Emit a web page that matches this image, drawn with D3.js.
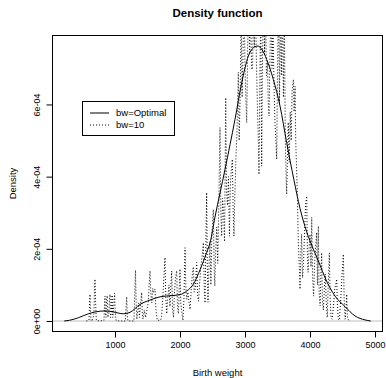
<!DOCTYPE html>
<html>
<head>
<meta charset="utf-8">
<script src="https://cdn.jsdelivr.net/npm/d3@7"></script>
<style>
  html, body { margin: 0; padding: 0; background: #fff; }
  svg text { font-family: "Liberation Sans", Arial, Helvetica, sans-serif; }
</style>
</head>
<body>
<svg id="chart" width="386" height="378"></svg>
<script>
// ---- Data (density values in units of 1e-4) ----
const optX = [219, 300, 436, 590, 692, 846, 974, 1128, 1231, 1385, 1538, 1692, 1846, 2000, 2103, 2205, 2308, 2410, 2462, 2538, 2692, 2846, 2949, 3051, 3154, 3200, 3256, 3333, 3436, 3538, 3641, 3750, 3846, 3949, 4051, 4154, 4231, 4385, 4538, 4692, 4846, 4934];
const optY = [0, 0.02, 0.09, 0.2, 0.25, 0.28, 0.25, 0.2, 0.24, 0.46, 0.58, 0.67, 0.7, 0.73, 0.83, 1.02, 1.42, 1.9, 2.17, 2.88, 4.2, 5.59, 6.6, 7.34, 7.6, 7.62, 7.53, 7.25, 6.69, 5.96, 4.94, 3.93, 3.12, 2.47, 1.99, 1.55, 1.2, 0.69, 0.4, 0.14, 0.03, 0];

const bw10X = [560,600,608,615,622,630,650,675,685,692,700,712,760,830,840,846,853,862,870,880,890,905,915,923,932,945,955,965,980,993,1003,1015,1060,1160,1170,1180,1190,1200,1290,1305,1315,1325,1335,1350,1365,1375,1395,1410,1420,1430,1450,1470,1490,1510,1525,1538,1550,1565,1580,1595,1615,1630,1650,1700,1715,1740,1760,1769,1780,1795,1810,1830,1845,1860,1872,1885,1900,1915,1930,1949,1960,1975,1990,2000,2012,2030,2045,2060,2077,2090,2105,2120,2140,2154,2170,2190,2205,2218,2235,2256,2270,2285,2300,2320,2340,2359,2372,2385,2397,2410,2420,2430,2445,2460,2475,2490,2505,2513,2525,2535,2550,2565,2580,2595,2615,2628,2640,2655,2670,2685,2703,2715,2730,2745,2760,2775,2790,2805,2818,2830,2845,2860,2875,2897,2910,2925,2940,2955,2970,2985,3000,3012,3026,3040,3055,3070,3085,3100,3115,3130,3145,3160,3175,3190,3205,3215,3230,3242,3256,3270,3285,3300,3315,3330,3345,3358,3370,3385,3400,3415,3430,3445,3460,3475,3487,3500,3515,3530,3545,3560,3575,3590,3605,3620,3632,3641,3655,3665,3680,3695,3710,3725,3744,3755,3770,3780,3790,3805,3820,3835,3846,3858,3870,3885,3900,3915,3930,3949,3960,3970,3985,4000,4015,4026,4040,4055,4070,4085,4103,4115,4128,4140,4155,4165,4179,4190,4205,4220,4235,4250,4265,4280,4297,4310,4325,4340,4360,4380,4395,4410,4420,4435,4450,4470,4490,4513,4525,4540,4555,4564,4575,4600];
const bw10Y = [0,0.02,0.5,0.74,0.3,0.02,0,0.2,0.9,1.16,0.6,0.02,0,0.02,0.5,0.69,0.2,0.1,0.6,0.7,0.1,0.2,0.6,0.74,0.1,0.3,0.72,0.1,0.4,0.77,0.3,0.02,0,0,0.4,0.67,0.1,0,0,0.8,1.41,0.5,0.05,0.3,0.5,0.1,0.5,0.79,0.2,0.05,0.3,0.1,0.3,0.5,1.0,1.39,0.8,0.5,0.9,0.8,0.88,0.3,0.02,0.02,0.1,0.8,1.5,1.76,0.7,0.2,0.6,1.0,0.4,1.0,1.39,0.3,0.1,0.8,1.2,1.39,0.4,0.2,1.0,1.44,0.5,0.2,0.02,0.6,2.03,0.9,0.6,0.8,0.5,0.32,0.8,1.3,1.5,0.8,0.9,1.62,0.7,0.55,1.0,1.5,1.8,2.17,1.0,0.5,2.2,3.56,1.5,0.52,1.5,2.2,1.0,2.4,2.9,3.09,1.5,0.97,2.0,2.6,1.6,3.0,5.36,3.0,2.35,3.4,3.0,2.2,6.19,3.6,3.2,4.0,2.35,3.8,4.2,4.48,3.0,2.35,3.6,4.5,5.2,6.89,5.0,6.2,8.5,6.2,7.5,9,7.0,6.2,5.5,7.5,9,7.4,8.8,7.0,6.97,8.6,7.6,9,7.2,6.0,5.0,4.06,7.0,8.6,4.29,7.5,9,7.4,8.6,6.8,7.2,6.0,5.68,7.5,9,7.0,8.2,6.6,5.5,5.0,4.48,7.0,9,6.0,8.8,6.8,9,6.2,8.6,5.0,4.0,3.51,4.8,5.5,4.4,5.8,5.0,6.4,6.69,5.8,6.5,5.0,4.4,3.5,2.2,1.5,0.88,1.8,2.4,1.2,1.6,2.4,3.2,3.46,1.8,1.35,2.0,2.4,1.5,2.87,1.2,0.69,1.6,2.0,2.45,1.0,2.63,0.8,0.42,1.2,1.89,0.6,0.3,0.9,1.3,0.5,0.1,1.0,1.89,0.6,0.08,0.05,0.4,0.9,1.0,1.16,0.5,0.05,0.02,0.5,1.2,1.85,0.6,0.05,0.4,0.74,0.1,0];

const xTicks = [1000, 2000, 3000, 4000, 5000];
const yTicks = [0, 2, 4, 6];
const yTickLabels = ["0e+00", "2e-04", "4e-04", "6e-04"];
const legendLabels = ["bw=Optimal", "bw=10"];
const titleText = "Density function";
const xLabel = "Birth weight";
const yLabel = "Density";

// ---- Layout ----
const box = { left: 52, right: 383, top: 35, bottom: 332 };
const svg = d3.select("#chart");

const xMin = d3.min(optX), xMax = d3.max(optX);
const xPad = (xMax - xMin) * 0.04;
const yMaxV = d3.max(optY);
const yPad = yMaxV * 0.04;

const x = d3.scaleLinear().domain([xMin - xPad, xMax + xPad]).range([box.left, box.right]);
const y = d3.scaleLinear().domain([0 - yPad, yMaxV + yPad]).range([box.bottom, box.top]);

svg.append("defs").append("clipPath").attr("id", "plotclip")
  .append("rect").attr("x", box.left).attr("y", box.top)
  .attr("width", box.right - box.left).attr("height", box.bottom - box.top);

const plot = svg.append("g").attr("clip-path", "url(#plotclip)");

// gray zero line
plot.append("line")
  .attr("x1", box.left).attr("x2", box.right)
  .attr("y1", y(0)).attr("y2", y(0))
  .attr("stroke", "#BEBEBE").attr("stroke-width", 1);

const optData = optX.map((v, i) => [v, optY[i]]);
const bwData = bw10X.map((v, i) => [v, bw10Y[i]]);

plot.append("path")
  .attr("d", d3.line().x(d => x(d[0])).y(d => y(d[1])).curve(d3.curveMonotoneX)(optData))
  .attr("fill", "none").attr("stroke", "#000").attr("stroke-width", 1);

plot.append("path")
  .attr("d", d3.line().x(d => x(d[0])).y(d => y(d[1]))(bwData))
  .attr("fill", "none").attr("stroke", "#000").attr("stroke-width", 1)
  .attr("stroke-dasharray", "1,2");

// box
svg.append("rect")
  .attr("x", box.left + 0.5).attr("y", box.top + 0.5)
  .attr("width", box.right - box.left - 1).attr("height", box.bottom - box.top - 1)
  .attr("fill", "none").attr("stroke", "#000").attr("stroke-width", 1);

// x axis
const xAxis = d3.axisBottom(x).tickValues(xTicks).tickSize(6).tickPadding(4).tickFormat(d3.format("d"));
const gx = svg.append("g").attr("transform", `translate(0,${box.bottom - 0.5})`).call(xAxis);
gx.select(".domain").attr("d", `M${x(xTicks[0])},0H${x(xTicks[xTicks.length - 1])}`);
gx.selectAll("text").attr("font-size", 9).attr("font-family", "Liberation Sans, Arial, sans-serif").attr("fill", "#000");

// y axis
const yAxis = d3.axisLeft(y).tickValues(yTicks).tickSize(6).tickFormat((d, i) => yTickLabels[i]);
const gy = svg.append("g").attr("transform", `translate(${box.left + 0.5},0)`).call(yAxis);
gy.select(".domain").attr("d", `M0,${y(yTicks[0])}V${y(yTicks[yTicks.length - 1])}`);
gy.selectAll("text")
  .attr("font-size", 9).attr("font-family", "Liberation Sans, Arial, sans-serif").attr("fill", "#000")
  .attr("x", null).attr("dy", null)
  .attr("text-anchor", "middle")
  .attr("transform", "translate(-16,0) rotate(-90)")
  .attr("y", 0).attr("dy", "0.35em");

// title & labels
svg.append("text").attr("x", (box.left + box.right) / 2).attr("y", 17)
  .attr("text-anchor", "middle").attr("font-weight", "bold").attr("font-size", 11.5).text(titleText);
svg.append("text").attr("x", (box.left + box.right) / 2).attr("y", 376)
  .attr("text-anchor", "middle").attr("font-size", 9.5).text(xLabel);
svg.append("text").attr("transform", `translate(16,${(box.top + box.bottom) / 2}) rotate(-90)`)
  .attr("text-anchor", "middle").attr("font-size", 9.5).text(yLabel);

// legend
const lg = svg.append("g");
lg.append("rect").attr("x", 82.5).attr("y", 101.5).attr("width", 92).attr("height", 34)
  .attr("fill", "#fff").attr("stroke", "#000").attr("stroke-width", 1);
const dashes = [null, "1,2"];
legendLabels.forEach((lab, i) => {
  const ly = 113 + i * 12;
  lg.append("line").attr("x1", 90).attr("x2", 109).attr("y1", ly).attr("y2", ly)
    .attr("stroke", "#000").attr("stroke-width", 1).attr("stroke-dasharray", dashes[i]);
  lg.append("text").attr("x", 116).attr("y", ly).attr("dy", "0.35em")
    .attr("font-size", 9.5).text(lab);
});
</script>
</body>
</html>
